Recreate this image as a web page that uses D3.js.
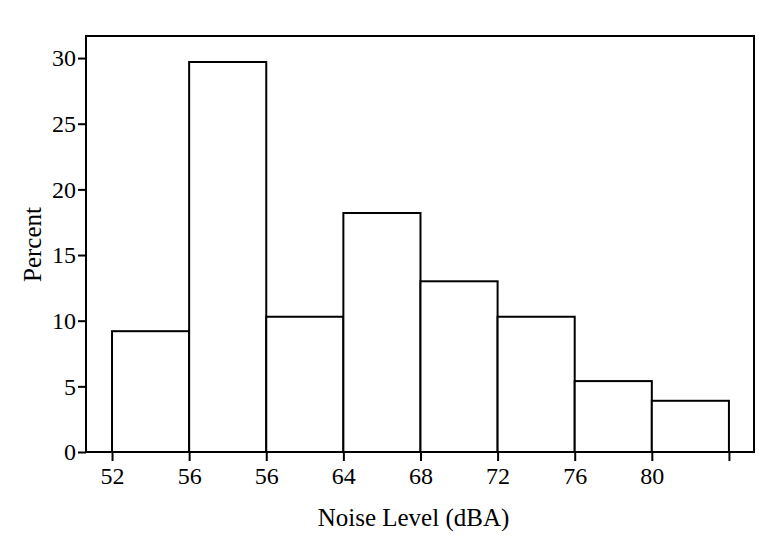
<!DOCTYPE html>
<html>
<head>
<meta charset="utf-8">
<script src="https://cdn.jsdelivr.net/npm/d3@7"></script>
<style>
  body { margin: 0; background: #fff; }
  svg, svg text { font-family: "Liberation Serif", "Times New Roman", serif !important; }
</style>
</head>
<body>
<svg id="chart"></svg>
<script>
// bin edges (dBA) and percent per bin
const binEdges = [52, 56, 60, 64, 68, 72, 76, 80, 84];
const percents = [9.2, 29.7, 10.3, 18.2, 13.0, 10.3, 5.4, 3.9];
// tick labels as printed on the original (note the repeated 56)
const xTickLabels = ["52", "56", "56", "64", "68", "72", "76", "80", ""];
const yTicks = [0, 5, 10, 15, 20, 25, 30];

const W = 784, H = 548;
const margin = { top: 36, right: 30, bottom: 96, left: 86 };
const width = W - margin.left - margin.right;
const height = H - margin.top - margin.bottom;

const svg = d3.select("#chart").attr("width", W).attr("height", H);
const g = svg.append("g").attr("transform", `translate(${margin.left},${margin.top})`);

const x = d3.scaleLinear().domain([50.65, 85.3]).range([0, width]);
const y = d3.scaleLinear().domain([0, 31.68]).range([height, 0]);

const bins = percents.map((p, i) => ({ x0: binEdges[i], x1: binEdges[i + 1], p }));

g.selectAll(".bar")
  .data(bins)
  .enter()
  .append("rect")
  .attr("class", "bar")
  .attr("x", (d) => x(d.x0))
  .attr("y", (d) => y(d.p))
  .attr("width", (d) => x(d.x1) - x(d.x0))
  .attr("height", (d) => y(0) - y(d.p))
  .attr("fill", "#fff")
  .attr("stroke", "#000")
  .attr("stroke-width", 2);

// frame
g.append("rect")
  .attr("width", width)
  .attr("height", height)
  .attr("fill", "none")
  .attr("stroke", "#000")
  .attr("stroke-width", 2);

const xAxis = g.append("g")
  .attr("transform", `translate(0,${height})`)
  .call(
    d3.axisBottom(x)
      .tickValues(binEdges)
      .tickSize(9)
      .tickPadding(6)
      .tickFormat((d, i) => xTickLabels[i])
  );

const yAxis = g.append("g")
  .call(d3.axisLeft(y).tickValues(yTicks).tickSize(8).tickPadding(2));

[xAxis, yAxis].forEach((a) => {
  a.attr("font-family", null).attr("font-size", null);
  a.select(".domain").remove();
  a.selectAll(".tick line").attr("stroke", "#000").attr("stroke-width", 2);
  a.selectAll(".tick text")
    .attr("fill", "#000")
    .style("font-size", "24px");
});

svg.append("text")
  .attr("x", margin.left + x(68) - 7)
  .attr("y", 526)
  .attr("text-anchor", "middle")
  .style("font-size", "25px")
  .text("Noise Level (dBA)");

svg.append("text")
  .attr("transform", `translate(41,${margin.top + y(15.8)}) rotate(-90)`)
  .attr("text-anchor", "middle")
  .style("font-size", "25px")
  .text("Percent");
</script>
</body>
</html>
